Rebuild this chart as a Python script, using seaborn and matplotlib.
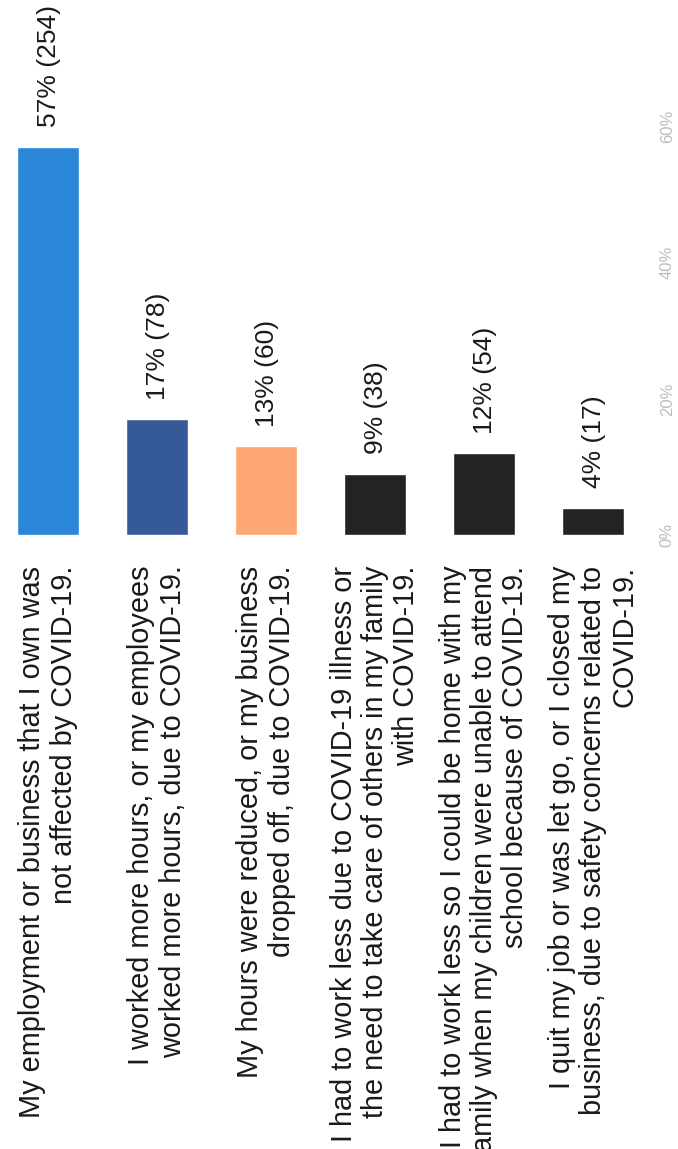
import matplotlib
matplotlib.use("Agg")
import matplotlib.pyplot as plt
import seaborn as sns

categories = [
    "My employment or business that I own was\nnot affected by COVID-19.",
    "I worked more hours, or my employees\nworked more hours, due to COVID-19.",
    "My hours were reduced, or my business\ndropped off, due to COVID-19.",
    "I had to work less due to COVID-19 illness or\nthe need to take care of others in my family\nwith COVID-19.",
    "I had to work less so I could be home with my\nfamily when my children were unable to attend\nschool because of COVID-19.",
    "I quit my job or was let go, or I closed my\nbusiness, due to safety concerns related to\nCOVID-19.",
]
percents = [57, 17, 13, 9, 12, 4]
counts = [254, 78, 60, 38, 54, 17]
bar_colors = ["#2A87D8", "#365A97", "#FDA774", "#232323", "#232323", "#232323"]
y_ticks = [0, 20, 40, 60]
y_tick_labels = ["0%", "20%", "40%", "60%"]

sns.set_style("white")
plt.rcParams["font.family"] = ["Liberation Sans", "DejaVu Sans"]

W, H = 678, 1149
fig = plt.figure(figsize=(W / 100, H / 100), dpi=100)

# axes geometry (pixels)
ax_left_px, ax_right_px = 0, 650
ax_bottom_px = 614
px_per_pct = 6.81
ymax = 70
ax = fig.add_axes([ax_left_px / W, ax_bottom_px / H,
                   (ax_right_px - ax_left_px) / W, ymax * px_per_pct / H])

sns.barplot(x=categories, y=percents, hue=categories, palette=bar_colors,
            legend=False, width=0.57, saturation=1, ax=ax)

unit = 109.0
ax.set_xlim(-48 / unit, (ax_right_px - 48) / unit)
ax.set_ylim(0, ymax)

for i, (p, c) in enumerate(zip(percents, counts)):
    ax.annotate(f"{p}% ({c})", xy=(i, p), xytext=(1, 14), textcoords="offset points",
                rotation=90, ha="center", va="bottom", fontsize=19, color="#1a1a1a")

ax.set_xticks(range(len(categories)))
ax.set_xticklabels(categories, rotation=90, ha="center", va="top",
                   multialignment="right", fontsize=20.8, color="#1a1a1a",
                   linespacing=1.15)
ax.tick_params(axis="x", length=0, pad=22)

ax.yaxis.tick_right()
ax.set_yticks(y_ticks)
ax.set_yticklabels(y_tick_labels, rotation=90, va="center", fontsize=12, color="#bdbdbd")
ax.tick_params(axis="y", length=0, pad=7)

ax.set_xlabel("")
ax.set_ylabel("")
for s in ax.spines.values():
    s.set_visible(False)

fig.savefig("out.png", dpi=100, facecolor="white")
